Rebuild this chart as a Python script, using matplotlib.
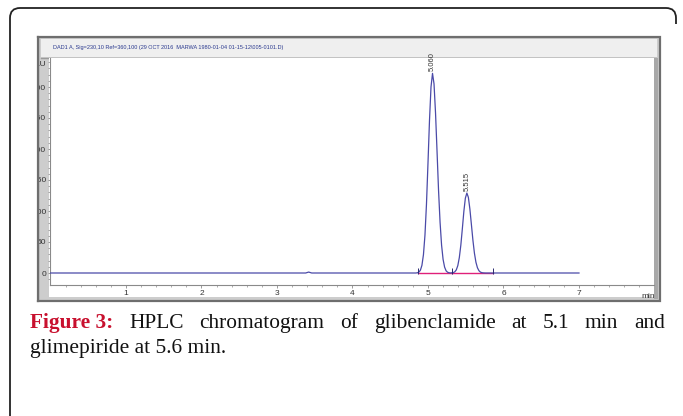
import matplotlib
matplotlib.use("Agg")
import matplotlib.pyplot as plt
from matplotlib.patches import Rectangle
from matplotlib.path import Path
from matplotlib.patches import PathPatch
import numpy as np

# ---------------- data ----------------
base_time = [0.0, 3.38, 3.42, 3.46, 4.84]
base_signal = [0.0, 0.0, 1.5, 0.0, 0.0]

peak1_time = [4.86, 4.88, 4.90, 4.92, 4.94, 4.96, 4.98, 5.00, 5.02, 5.04, 5.06,
              5.08, 5.10, 5.12, 5.14, 5.16, 5.18, 5.20, 5.22, 5.24, 5.26, 5.28, 5.30]
peak1_signal = [0.4, 1.5, 4.6, 12.5, 29.6, 61, 111, 177, 246, 300, 322,
                305, 258, 196, 133, 82, 45, 22, 9.5, 3.5, 1.2, 0.4, 0.1]

peak2_time = [5.335, 5.355, 5.375, 5.395, 5.415, 5.435, 5.455, 5.475, 5.495, 5.515,
              5.535, 5.555, 5.575, 5.595, 5.615, 5.635, 5.655, 5.675, 5.695, 5.715, 5.735]
peak2_signal = [0.6, 1.9, 5.0, 11.9, 24.8, 44.8, 71.2, 99.1, 120.7, 129,
                122.0, 103.2, 78.3, 53.0, 32.1, 17.4, 8.5, 3.7, 1.4, 0.5, 0.17]

tail_time = [5.76, 7.0]
tail_signal = [0.0, 0.0]

peak_rt = [5.060, 5.515]
peak_height = [322, 129]
peak_labels = ["5.060", "5.515"]

baseline_start = [4.87, 5.32]
baseline_end = [5.32, 5.86]

x_ticks = [1, 2, 3, 4, 5, 6, 7]
y_ticks = [0, 50, 100, 150, 200, 250, 300]

header_text = "DAD1 A, Sig=230,10 Ref=360,100 (29 OCT 2016  MARWA 1980-01-04 01-15-12\\005-0101.D)"
caption_bold = "Figure 3:"
caption_line1 = "HPLC chromatogram of glibenclamide at 5.1 min and"
caption_line2 = "glimepiride at 5.6 min."

# ---------------- figure ----------------
W, H = 683, 416
fig = plt.figure(figsize=(W / 100, H / 100), dpi=100)

def fx(x):
    return x / W

def fy(y):
    return 1 - y / H

# outer rounded frame (left, top, right short)
r = 10
verts = [(fx(10), fy(420)), (fx(10), fy(8 + r)), (fx(10), fy(8)), (fx(10 + r), fy(8)),
         (fx(676 - r), fy(8)), (fx(676), fy(8)), (fx(676), fy(8 + r)), (fx(676), fy(24))]
codes = [Path.MOVETO, Path.LINETO, Path.CURVE3, Path.CURVE3,
         Path.LINETO, Path.CURVE3, Path.CURVE3, Path.LINETO]
fig.patches.append(PathPatch(Path(verts, codes), transform=fig.transFigure,
                             fill=False, edgecolor="#222222", lw=1.3, zorder=-5))

def rect(x0, y0, x1, y1, **kw):
    p = Rectangle((fx(x0), fy(y1)), fx(x1) - fx(x0), fy(y0) - fy(y1),
                  transform=fig.transFigure, **kw)
    fig.patches.append(p)
    return p

# gray screenshot panel
rect(38, 37, 660, 301, facecolor="#cdcdcd", edgecolor="#6e6e6e", lw=1.6, zorder=-4)
rect(41, 39, 657, 57, facecolor="#efefef", edgecolor="none", zorder=-3)
fig.add_artist(plt.Line2D([fx(41), fx(656)], [fy(57.5), fy(57.5)], color="#9a9a9a",
                          lw=1.0, transform=fig.transFigure, zorder=-3))
rect(49, 58, 654, 297, facecolor="white", edgecolor="none", zorder=-3)
rect(654, 58, 658, 299, facecolor="#a8a8a8", edgecolor="none", zorder=-3)
fig.text(fx(53), fy(47.5), header_text, fontsize=4.0, color="#2b3a8f",
         va="center", ha="left", family="Liberation Sans")

# chart axes
ax_l, ax_r, ax_t, ax_b = 49.5, 654, 58, 285
ax = fig.add_axes([fx(ax_l), fy(ax_b), fx(ax_r) - fx(ax_l), fy(ax_t) - fy(ax_b)])
ax.set_facecolor("none")
ax.set_xlim(-0.013, (ax_r - ax_l) / 75.5 - 0.013)
ax.set_ylim(-(ax_b - 273) / 31 * 50, (273 - ax_t) / 31 * 50)

line_color = "#4a4aa8"
all_t = base_time + peak1_time + peak2_time + tail_time
all_s = base_signal + peak1_signal + peak2_signal + tail_signal
ax.plot(all_t, all_s, color=line_color, lw=0.9, zorder=3)

# integration baselines
for a, b in zip(baseline_start, baseline_end):
    ax.plot([a, b], [0.8, 0.8], color="#e0207a", lw=1.0, zorder=2)
marks = sorted(set(baseline_start + baseline_end))
ax.plot(marks, [4] * len(marks), ls="none", marker="|", ms=4, mew=0.7,
        color="#2a2a70", zorder=4)

# peak labels
for rt, h, lab in zip(peak_rt, peak_height, peak_labels):
    ax.text(rt, h + 4, lab, rotation=90, ha="center", va="bottom",
            fontsize=5.5, color="#333333", family="Liberation Sans")

# axes style
for s in ["top", "right"]:
    ax.spines[s].set_visible(False)
for s in ["left", "bottom"]:
    ax.spines[s].set_color("#8a8a8a")
    ax.spines[s].set_linewidth(0.8)
ax.set_xticks(x_ticks)
ax.set_yticks(y_ticks)
ax.set_xticks(np.arange(0.2, 8.0, 0.2), minor=True)
ax.set_yticks(np.arange(-10, 341, 10), minor=True)
ax.tick_params(axis="both", which="major", length=1.8, width=0.6, color="#8a8a8a",
               labelsize=6, labelcolor="#333333", pad=0.6)
ax.tick_params(axis="x", which="major", pad=1.5)
ax.tick_params(axis="both", which="minor", length=1.2, width=0.5, color="#8a8a8a")
for lbl in ax.get_xticklabels() + ax.get_yticklabels():
    lbl.set_family("Liberation Sans")
ax.text(7.92, -0.035, "min", transform=ax.get_xaxis_transform(), ha="center",
        va="top", fontsize=6, color="#333333", family="Liberation Sans")
ax.text(-0.006, 0.985, "mAU", transform=ax.transAxes, ha="right", va="top",
        fontsize=6, color="#333333", family="Liberation Sans")

# mask left of panel (clips y labels like the screenshot)
m = Rectangle((fx(12), fy(300)), fx(37.2) - fx(12), fy(38) - fy(300),
              transform=fig.transFigure, facecolor="white", edgecolor="none", zorder=10)
fig.add_artist(m)
fig.add_artist(plt.Line2D([fx(38), fx(38)], [fy(37), fy(301)], color="#6e6e6e",
                          lw=1.6, transform=fig.transFigure, zorder=11))

# caption (justified first line)
fam = "Liberation Serif"
renderer = fig.canvas.get_renderer()
probe = fig.text(0, 0, caption_line2, fontsize=10, family=fam)
fs = 10 * 195 / probe.get_window_extent(renderer).width
probe.remove()

words = [(caption_bold, True)] + [(w, False) for w in caption_line1.split()]
arts = []
for w, bold in words:
    t = fig.text(0, fy(328), w, fontsize=fs, family=fam,
                 fontweight="bold" if bold else "normal",
                 color="#c8102e" if bold else "#111111", va="baseline", ha="left")
    arts.append(t)
widths = [a.get_window_extent(renderer).width for a in arts]
x_start, x_end = 30, 665
gap = (x_end - x_start - sum(widths)) / (len(arts) - 1)
x = x_start
for a, wd in zip(arts, widths):
    a.set_x(fx(x))
    x += wd + gap
fig.text(fx(30), fy(353), caption_line2, fontsize=fs, family=fam, color="#111111",
         va="baseline", ha="left")

fig.savefig("out.png", dpi=100)
